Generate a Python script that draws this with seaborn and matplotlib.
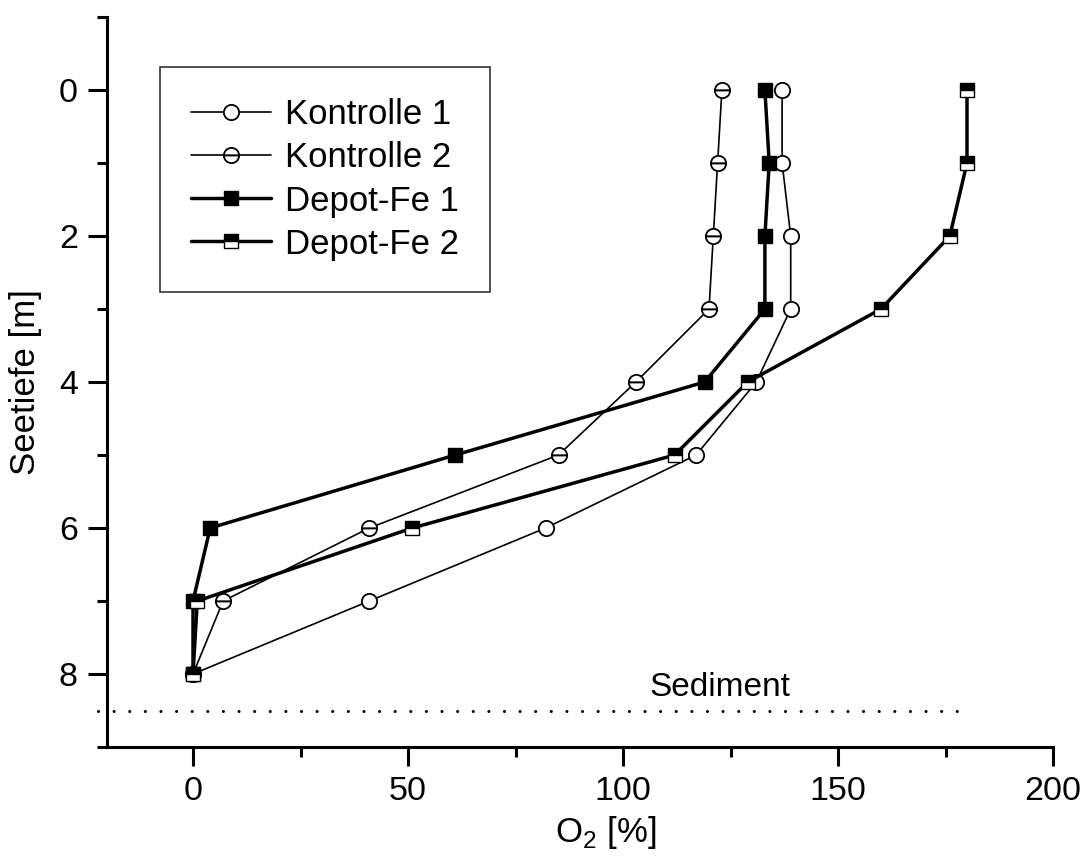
import matplotlib
matplotlib.use("Agg")
import matplotlib.pyplot as plt
import seaborn as sns
import pandas as pd
from matplotlib.ticker import MultipleLocator

sns.set_style("ticks")
plt.rcParams["font.family"] = ["Liberation Sans", "DejaVu Sans"]
plt.rcParams["mathtext.fontset"] = "custom"
plt.rcParams["mathtext.rm"] = "Liberation Sans"
for key in ["text.color", "axes.labelcolor", "xtick.color", "ytick.color",
            "axes.edgecolor"]:
    plt.rcParams[key] = "black"

# Depth profile of dissolved oxygen
depth = [0, 1, 2, 3, 4, 5, 6, 7, 8]
kontrolle_1 = [137, 137, 139, 139, 131, 117, 82, 41, 0]
kontrolle_2 = [123, 122, 121, 120, 103, 85, 41, 7, 0]
depot_fe_1 = [133, 134, 133, 133, 119, 61, 4, 0, 0]
depot_fe_2 = [180, 180, 176, 160, 129, 112, 51, 1, 0]
series_names = ["Kontrolle 1", "Kontrolle 2", "Depot-Fe 1", "Depot-Fe 2"]
sediment_depth = 8.5
sediment_extent = [-22, 180]

fig = plt.figure(figsize=(10.82, 8.67), dpi=100)
ax = fig.add_axes([0.0989, 0.1384, 0.8743, 0.8420])

styles = {
    "Kontrolle 1": dict(lw=1.2, marker="o", ms=11, mfc="white", mec="black",
                        mew=1.3, fillstyle="full"),
    "Kontrolle 2": dict(lw=1.2, marker="o", ms=11, mfc="white", mec="black",
                        mew=1.3, fillstyle="top", markerfacecoloralt="white"),
    "Depot-Fe 1": dict(lw=2.5, marker="s", ms=10.5, mfc="black", mec="black",
                       mew=1.0, fillstyle="full"),
    "Depot-Fe 2": dict(lw=2.5, marker="s", ms=10.5, mfc="black", mec="black",
                       mew=1.0, fillstyle="top", markerfacecoloralt="white"),
}

values = [kontrolle_1, kontrolle_2, depot_fe_1, depot_fe_2]
for name, vals in zip(series_names, values):
    df = pd.DataFrame({"O2": vals, "Tiefe": depth})
    sns.lineplot(data=df, x="O2", y="Tiefe", sort=False, estimator=None,
                 color="black", label=name, ax=ax, **styles[name])

# Sediment surface
ax.hlines(sediment_depth, sediment_extent[0], sediment_extent[1], colors="black",
          linestyles=(0, (0.01, 5.1)), linewidth=2.2, capstyle="round",
          clip_on=False)
ax.text(122.5, 8.30, "Sediment", fontsize=24, ha="center", va="baseline")

ax.set_xlim(-20, 200)
ax.set_ylim(9, -1)
ax.xaxis.set_major_locator(MultipleLocator(50))
ax.xaxis.set_minor_locator(MultipleLocator(25))
ax.yaxis.set_major_locator(MultipleLocator(2))
ax.yaxis.set_minor_locator(MultipleLocator(1))

for side in ["top", "right"]:
    ax.spines[side].set_visible(False)
for side in ["left", "bottom"]:
    ax.spines[side].set_linewidth(2.2)
ax.tick_params(which="major", direction="out", length=14, width=2.2,
               labelsize=24.5, color="black", labelcolor="black", pad=7)
ax.tick_params(which="minor", direction="out", length=7, width=2.2, color="black")

ax.set_xlabel("O$_2$ [%]", fontsize=25)
ax.xaxis.set_label_coords(0.527, -0.117)
ax.xaxis.label.set_va("center")
ax.set_ylabel("Seetiefe [m]", fontsize=25, labelpad=12)

leg = ax.legend(loc="upper left", bbox_to_anchor=(0.056, 0.9313), borderaxespad=0,
                fontsize=25, frameon=True, fancybox=False, edgecolor="black",
                handlelength=2.3, handletextpad=0.4, labelspacing=0.29,
                borderpad=0.9, numpoints=1)
leg.get_frame().set_linewidth(1.2)
for t in leg.get_texts():
    t.set_color("black")

fig.savefig("out.png", dpi=100)
